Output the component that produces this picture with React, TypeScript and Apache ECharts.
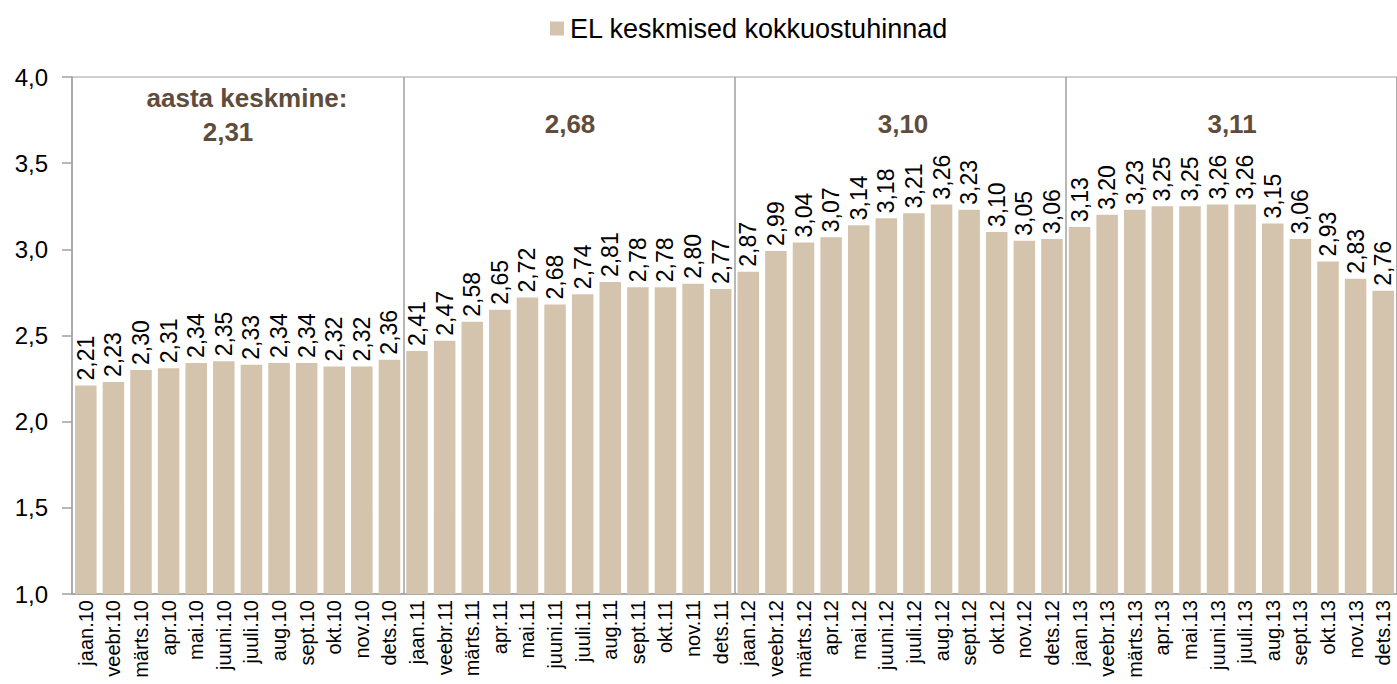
import React, { useEffect, useRef } from "react";
import * as echarts from "echarts";

const months = ["jaan", "veebr", "märts", "apr", "mai", "juuni", "juuli", "aug", "sept", "okt", "nov", "dets"];
const years = ["10", "11", "12", "13"];
const categories = years.flatMap((y) => months.map((m) => `${m}.${y}`));

const values2010 = [2.21, 2.23, 2.30, 2.31, 2.34, 2.35, 2.33, 2.34, 2.34, 2.32, 2.32, 2.36];
const values2011 = [2.41, 2.47, 2.58, 2.65, 2.72, 2.68, 2.74, 2.81, 2.78, 2.78, 2.80, 2.77];
const values2012 = [2.87, 2.99, 3.04, 3.07, 3.14, 3.18, 3.21, 3.26, 3.23, 3.10, 3.05, 3.06];
const values2013 = [3.13, 3.20, 3.23, 3.25, 3.25, 3.26, 3.26, 3.15, 3.06, 2.93, 2.83, 2.76];
const values = [...values2010, ...values2011, ...values2012, ...values2013];

const seriesName = "EL keskmised kokkuostuhinnad";
const yearAverages = ["2,31", "2,68", "3,10", "3,11"];

const FONT = "'Liberation Sans', Arial, sans-serif";
const BROWN = "#604c3a";
const BAR = "#d4c4ad";
const GRAY = "#a0a0a0";

export default function App() {
  const ref = useRef<HTMLDivElement>(null);
  useEffect(() => {
    if (!ref.current) return;
    const chart = echarts.init(ref.current, undefined, { renderer: "svg" });
    const fmt = (v: number, d: number) => v.toFixed(d).replace(".", ",");
    const ann = (text: string, x: number, y: number) => ({
      type: "text",
      x,
      y,
      style: { text, fill: BROWN, font: `bold 26px ${FONT}`, textAlign: "center", textVerticalAlign: "middle" },
    });
    chart.setOption({
      animation: false,
      textStyle: { fontFamily: FONT },
      legend: {
        top: 10,
        left: 545,
        itemWidth: 14,
        itemHeight: 14,
        icon: "rect",
        textStyle: { fontSize: 27, color: "#000", fontFamily: FONT, padding: [0, 0, 0, 1] },
        data: [seriesName],
      },
      grid: {
        left: 72,
        top: 77,
        width: 1330,
        height: 517,
        show: true,
        borderColor: GRAY,
        borderWidth: 1,
        containLabel: false,
      },
      xAxis: {
        type: "category",
        data: categories,
        axisLine: { lineStyle: { color: GRAY, width: 1.5 } },
        axisTick: { show: false },
        axisLabel: {
          rotate: 90,
          interval: 0,
          color: "#000",
          fontSize: 20,
          fontFamily: FONT,
          margin: 6,
        },
        splitLine: {
          show: true,
          interval: (i: number) => i % 12 === 0 && i > 0,
          lineStyle: { color: GRAY, width: 1.5 },
        },
      },
      yAxis: {
        type: "value",
        min: 1,
        max: 4,
        interval: 0.5,
        axisLine: { show: true, lineStyle: { color: GRAY, width: 1.5 } },
        axisTick: { show: true, length: 10, lineStyle: { color: GRAY, width: 1.5 } },
        axisLabel: {
          color: "#000",
          fontSize: 24,
          fontFamily: FONT,
          margin: 24,
          formatter: (v: number) => fmt(v, 1),
        },
        splitLine: { show: false },
      },
      series: [
        {
          name: seriesName,
          type: "bar",
          data: values,
          barCategoryGap: "22%",
          itemStyle: { color: BAR },
          label: {
            show: true,
            position: "top",
            rotate: 90,
            align: "left",
            verticalAlign: "middle",
            distance: 5,
            color: "#000",
            fontSize: 23,
            fontFamily: FONT,
            formatter: (p: any) => fmt(p.value, 2),
          },
        },
      ],
      graphic: [
        ann("aasta keskmine:", 247, 98),
        ann(yearAverages[0], 228, 132),
        ann(yearAverages[1], 570, 124),
        ann(yearAverages[2], 903, 124),
        ann(yearAverages[3], 1232, 124),
      ],
    });
    return () => chart.dispose();
  }, []);
  return <div ref={ref} style={{ position: "absolute", left: 0, top: 0, width: 1397, height: 684 }} />;
}
